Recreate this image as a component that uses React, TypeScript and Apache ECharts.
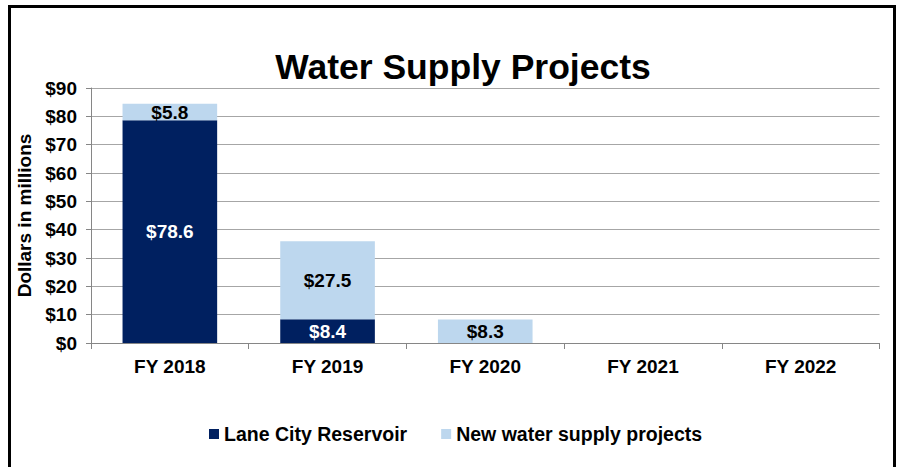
import React, { useEffect, useRef } from "react";
import * as echarts from "echarts";

const categories = ["FY 2018", "FY 2019", "FY 2020", "FY 2021", "FY 2022"];
const laneCity = [78.6, 8.4, 0, 0, 0];
const newSupply = [5.8, 27.5, 8.3, 0, 0];
const seriesNames = ["Lane City Reservoir", "New water supply projects"];
const titleText = "Water Supply Projects";
const yAxisName = "Dollars in millions";

const FONT = "'Liberation Sans', Arial, sans-serif";

export default function App() {
  const ref = useRef<HTMLDivElement>(null);
  useEffect(() => {
    if (!ref.current) return;
    const chart = echarts.init(ref.current, undefined, { renderer: "svg" });
    const fmt = (p: any) => (p.value > 0 ? "$" + Number(p.value).toFixed(1) : "");
    chart.setOption({
      animation: false,
      backgroundColor: "#ffffff",
      textStyle: { fontFamily: FONT },
      graphic: [
        {
          type: "rect",
          shape: { x: 9.5, y: 6.5, width: 885, height: 480 },
          style: { fill: "none", stroke: "#000", lineWidth: 3 },
          silent: true,
          z: 100,
        },
        {
          type: "text",
          x: 463,
          y: 67,
          style: {
            text: titleText,
            fontFamily: FONT,
            fontSize: 35.5,
            fontWeight: "bold",
            fill: "#000",
            align: "center",
            verticalAlign: "middle",
          },
        },
      ],
      legend: {
        left: 204,
        top: 419,
        itemWidth: 10,
        itemHeight: 10,
        itemGap: 34,
        icon: "rect",
        textStyle: { fontFamily: FONT, fontSize: 19.5, fontWeight: "bold", color: "#000" },
        data: seriesNames,
      },
      grid: { left: 91, right: 21.5, top: 88, bottom: 124, containLabel: false },
      xAxis: {
        type: "category",
        data: categories,
        axisLine: { show: true, lineStyle: { color: "#868686", width: 1 } },
        axisTick: { show: true, length: 6, lineStyle: { color: "#868686" } },
        axisLabel: { margin: 14, fontFamily: FONT, fontSize: 19, fontWeight: "bold", color: "#000" },
      },
      yAxis: {
        type: "value",
        min: 0,
        max: 90,
        interval: 10,
        name: yAxisName,
        nameLocation: "middle",
        nameRotate: 90,
        nameGap: 54,
        nameTextStyle: { fontFamily: FONT, fontSize: 19, fontWeight: "bold", color: "#000" },
        axisLine: { show: true, lineStyle: { color: "#868686", width: 1 } },
        axisTick: { show: true, length: 5, lineStyle: { color: "#868686" } },
        splitLine: { show: true, lineStyle: { color: "#a6a6a6", width: 1 } },
        axisLabel: {
          margin: 14,
          fontFamily: FONT,
          fontSize: 19,
          fontWeight: "bold",
          color: "#000",
          formatter: (v: number) => "$" + v,
        },
      },
      series: [
        {
          name: seriesNames[0],
          type: "bar",
          stack: "total",
          barWidth: "60%",
          data: laneCity,
          itemStyle: { color: "#002060" },
          label: {
            show: true,
            position: "inside",
            formatter: fmt,
            fontFamily: FONT,
            fontSize: 19,
            fontWeight: "bold",
            color: "#fff",
          },
        },
        {
          name: seriesNames[1],
          type: "bar",
          stack: "total",
          barWidth: "60%",
          data: newSupply,
          itemStyle: { color: "#bdd7ee" },
          label: {
            show: true,
            position: "inside",
            formatter: fmt,
            fontFamily: FONT,
            fontSize: 19,
            fontWeight: "bold",
            color: "#000",
          },
        },
      ],
    });
    return () => chart.dispose();
  }, []);
  return (
    <div
      ref={ref}
      style={{ position: "fixed", left: 0, top: 0, width: 901, height: 467 }}
    />
  );
}
